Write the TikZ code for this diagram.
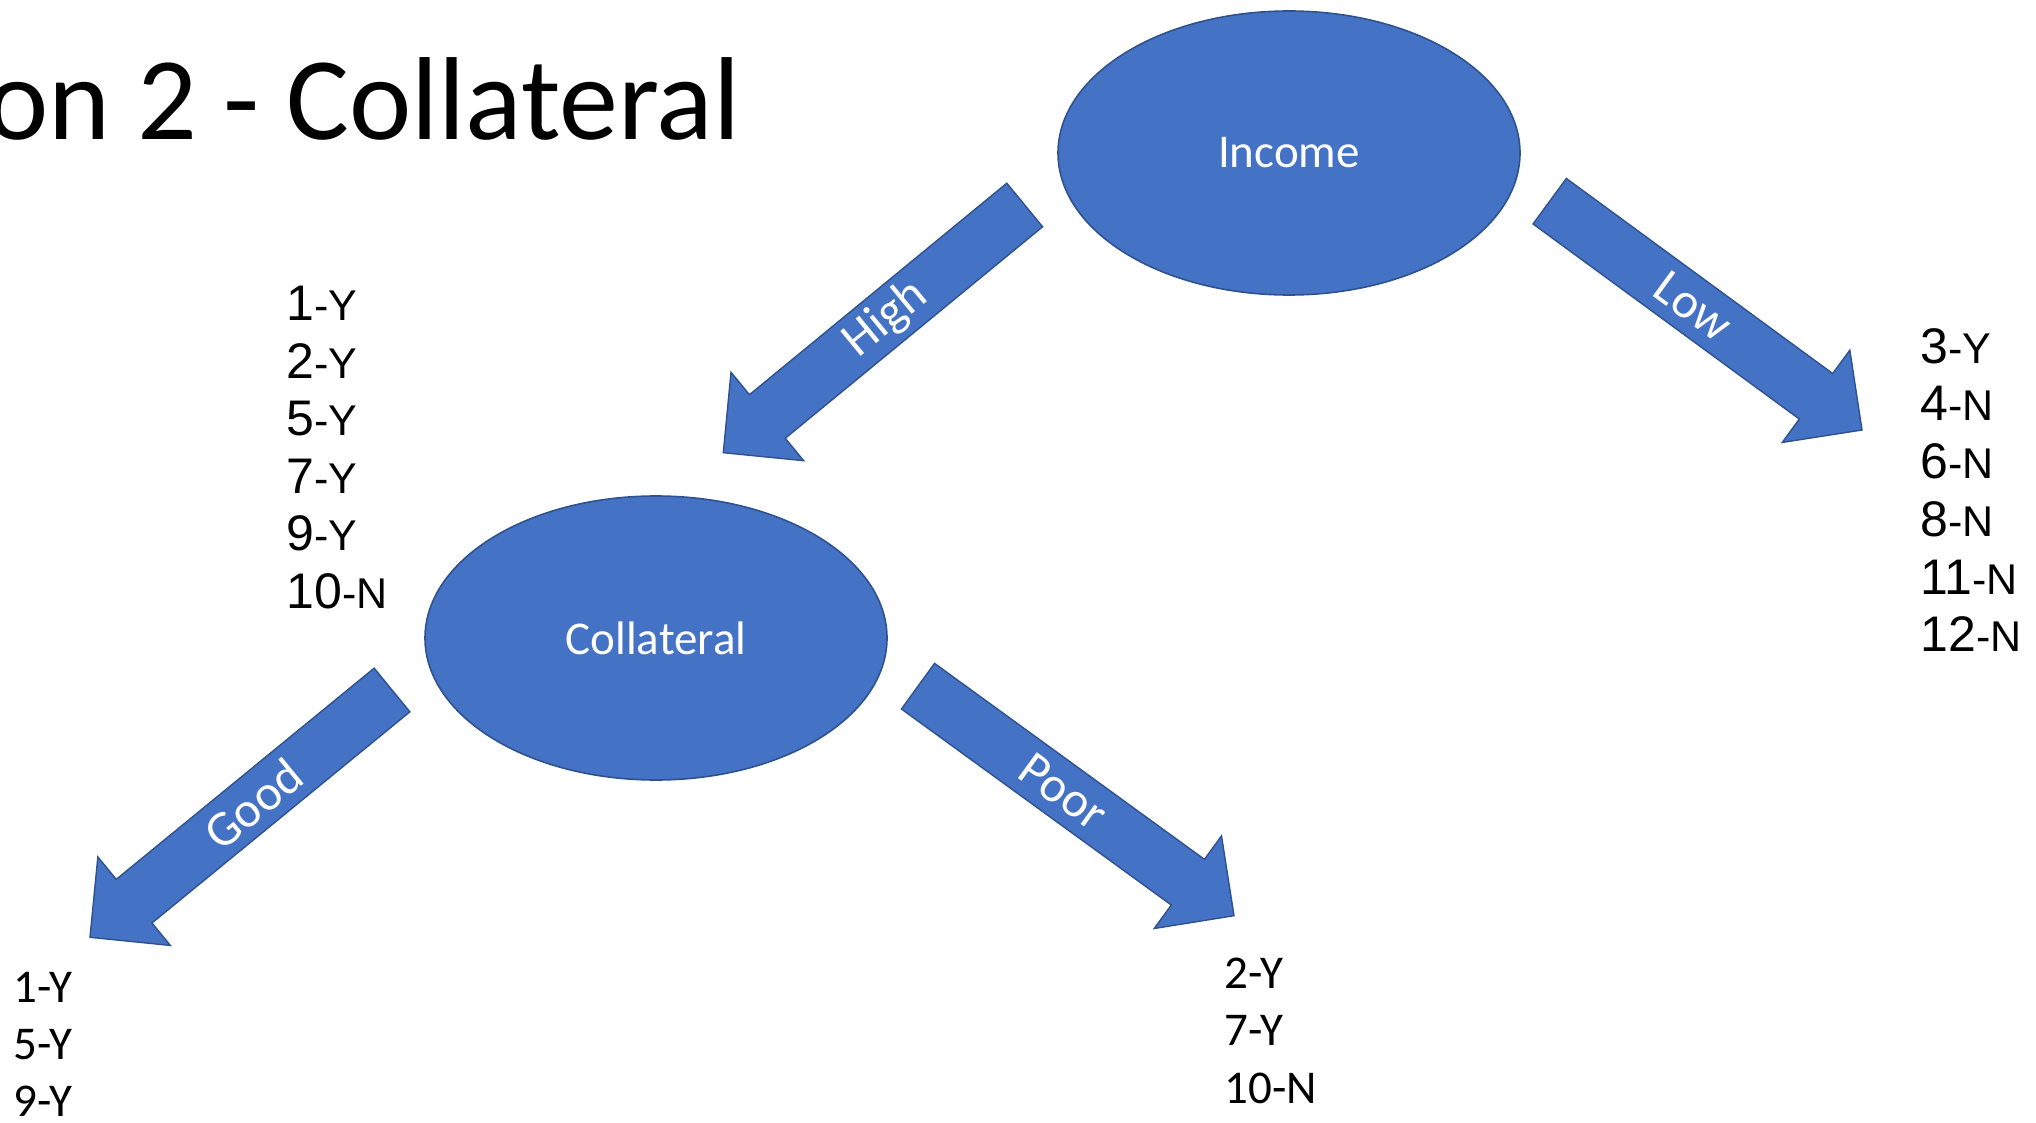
\documentclass[tikz,border=0pt]{standalone}
\usepackage{fontspec}
\setmainfont{Carlito}
\newfontfamily\arialfont{Liberation Sans}
\usetikzlibrary{shapes.geometric,calc}
\definecolor{shapeblue}{HTML}{4472C4}
\definecolor{shapeedge}{HTML}{2F528F}

% list entry: large number, smaller "-Y"/"-N" tag
\newcommand{\listentry}[2]{{\arialfont\fontsize{25}{30}\selectfont #1}{\arialfont\fontsize{21.5}{26}\selectfont -#2}}

% block arrow from tail centre #1 to tip #2, label #3, name prefix #4
\newcommand{\blockarrow}[4]{%
  \coordinate (#4B) at ($(#2)!28.5pt!(#1)$);
  \draw[blockfill] ($(#1)!14.1pt!90:(#2)$) -- ($(#4B)!14.1pt!90:(#2)$)
    -- ($(#4B)!28.6pt!90:(#2)$) -- (#2) -- ($(#4B)!28.6pt!-90:(#2)$)
    -- ($(#4B)!14.1pt!-90:(#2)$) -- ($(#1)!14.1pt!-90:(#2)$) -- cycle;
  \path (#1) -- (#2) node[branchlabel, sloped, pos=0.46] (#4label) {#3};
}

\begin{document}
\begin{tikzpicture}[x=0.5pt,y=-0.5pt,
  decision/.style={ellipse, fill=shapeblue, draw=shapeedge, line width=0.8pt,
    minimum width=231pt, minimum height=142pt, inner sep=0pt, text=white,
    font=\fontsize{23.5}{28}\selectfont},
  blockfill/.style={fill=shapeblue, draw=shapeedge, line width=0.7pt, line join=miter},
  branchlabel/.style={text=white, font=\fontsize{25}{30}\selectfont, inner sep=0pt},
  caseitem/.style={anchor=base west, inner sep=0pt, font=\fontsize{23.5}{28}\selectfont},
  arialitem/.style={anchor=base west, inner sep=0pt},
]
\useasboundingbox (0,0) rectangle (2036,1123);

% heading
\node[anchor=base east, inner sep=0pt, font=\fontsize{59}{70}\selectfont] (title) at (741,140) {on 2 - Collateral};

% decision nodes
\node[decision] (income) at (1289,153) {Income};
\node[decision] (collateral) at (656,638) {Collateral};

% branch arrows
\coordinate (highT) at (1024.7,205);  \coordinate (highP) at (723.3,452.7);
\coordinate (lowT)  at (1549.7,201.2); \coordinate (lowP)  at (1862,430);
\coordinate (goodT) at (392,690);     \coordinate (goodP) at (90,937.3);
\coordinate (poorT) at (918,686.2);   \coordinate (poorP) at (1234,915.7);
\blockarrow{highT}{highP}{High}{high}
\blockarrow{lowT}{lowP}{Low}{low}
\blockarrow{goodT}{goodP}{Good}{good}
\blockarrow{poorT}{poorP}{Poor}{poor}

% cases per branch
\foreach \n/\c [count=\i] in {1/Y,2/Y,5/Y,7/Y,9/Y,10/N}
  \node[arialitem] (highcase\i) at (286,{320.7+57.5*(\i-1)}) {\listentry{\n}{\c}};
\foreach \n/\c [count=\i] in {3/Y,4/N,6/N,8/N,11/N,12/N}
  \node[arialitem] (lowcase\i) at (1920,{363.3+57.7*(\i-1)}) {\listentry{\n}{\c}};
\foreach \t [count=\i] in {1-Y,5-Y,9-Y}
  \node[caseitem] (goodcase\i) at (13,{1002.7+56.7*(\i-1)}) {\t};
\foreach \t [count=\i] in {2-Y,7-Y,10-N}
  \node[caseitem] (poorcase\i) at (1224,{988.3+57.5*(\i-1)}) {\t};
\end{tikzpicture}
\end{document}
